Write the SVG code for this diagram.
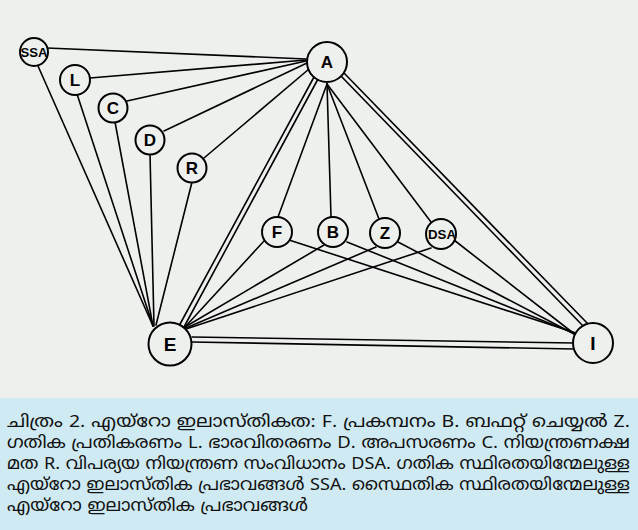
<svg xmlns="http://www.w3.org/2000/svg" width="638" height="530" viewBox="0 0 638 530">
<style>
.node circle{fill:#eef0ee;stroke:#000;stroke-width:2}
.node text{font-family:"Liberation Sans",Arial,sans-serif;font-weight:bold;fill:#000;text-anchor:middle}
.edges line{stroke:#000;stroke-width:1.6;stroke-linecap:round}
.cap{font-family:"Noto Sans Malayalam","Noto Sans","DejaVu Sans",sans-serif;font-size:17px;fill:#111}
</style>
<rect x="0" y="0" width="638" height="398" fill="#eef0ee"/>
<rect x="0" y="398" width="638" height="132" fill="#cfeaf3"/>
<g id="connectors" class="edges">
<line x1="47" y1="48" x2="306" y2="59"/>
<line x1="38" y1="66" x2="153" y2="326"/>
<line x1="90" y1="78" x2="306" y2="60"/>
<line x1="77" y1="94" x2="153" y2="326"/>
<line x1="127" y1="101" x2="306" y2="61"/>
<line x1="115" y1="122" x2="153" y2="326"/>
<line x1="164" y1="131" x2="307" y2="63"/>
<line x1="150" y1="154" x2="154" y2="326"/>
<line x1="204" y1="158" x2="309" y2="69"/>
<line x1="192" y1="182" x2="156" y2="325"/>
<line x1="314" y1="77" x2="179" y2="326"/>
<line x1="318" y1="79" x2="184" y2="327"/>
<line x1="341" y1="76" x2="585" y2="328"/>
<line x1="344" y1="73" x2="589" y2="325"/>
<line x1="327" y1="84" x2="278" y2="217"/>
<line x1="327" y1="84" x2="331" y2="217"/>
<line x1="327" y1="84" x2="379" y2="219"/>
<line x1="327" y1="84" x2="431" y2="222"/>
<line x1="264" y1="241" x2="185" y2="327"/>
<line x1="289" y1="240" x2="576" y2="333"/>
<line x1="324" y1="245" x2="185" y2="327"/>
<line x1="347" y1="242" x2="576" y2="334"/>
<line x1="376" y1="247" x2="186" y2="328"/>
<line x1="398" y1="242" x2="576" y2="335"/>
<line x1="431" y1="248" x2="186" y2="329"/>
<line x1="454" y1="240" x2="577" y2="336"/>
<line x1="192" y1="337" x2="574" y2="343"/>
<line x1="192" y1="342" x2="574" y2="349"/>
</g>
<g id="node-SSA" class="node"><circle cx="34" cy="52" r="14"/><text x="34" y="57" font-size="13" textLength="27" lengthAdjust="spacingAndGlyphs">SSA</text></g>
<g id="node-L" class="node"><circle cx="75" cy="80" r="15"/><text x="75" y="86" font-size="17">L</text></g>
<g id="node-C" class="node"><circle cx="113" cy="108" r="14.5"/><text x="113" y="114" font-size="17">C</text></g>
<g id="node-D" class="node"><circle cx="150" cy="140" r="14.5"/><text x="150" y="146" font-size="17">D</text></g>
<g id="node-R" class="node"><circle cx="192" cy="168" r="14.5"/><text x="192" y="174" font-size="17">R</text></g>
<g id="node-A" class="node"><circle cx="327" cy="62" r="20"/><text x="327" y="68" font-size="17">A</text></g>
<g id="node-F" class="node"><circle cx="277" cy="232" r="15"/><text x="277" y="238" font-size="17">F</text></g>
<g id="node-B" class="node"><circle cx="333" cy="232" r="15"/><text x="333" y="238" font-size="17">B</text></g>
<g id="node-Z" class="node"><circle cx="385" cy="233" r="15"/><text x="385" y="239" font-size="17">Z</text></g>
<g id="node-DSA" class="node"><circle cx="441" cy="234" r="15"/><text x="442" y="239" font-size="13" textLength="28" lengthAdjust="spacingAndGlyphs">DSA</text></g>
<g id="node-E" class="node"><circle cx="170" cy="344" r="21.5"/><text x="170" y="351" font-size="19">E</text></g>
<g id="node-I" class="node"><circle cx="593" cy="343" r="20"/><text x="593" y="350" font-size="19">I</text></g>
<g id="caption" class="cap">
<text x="7" y="427" textLength="623" lengthAdjust="spacingAndGlyphs">ചിത്രം 2. എയ്റോ ഇലാസ്തികത: F. പ്രകമ്പനം B. ബഫറ്റ് ചെയ്യൽ Z.</text>
<text x="7" y="448" textLength="623" lengthAdjust="spacingAndGlyphs">ഗതിക പ്രതികരണം L. ഭാരവിതരണം D. അപസരണം C. നിയന്ത്രണക്ഷ</text>
<text x="7" y="469" textLength="623" lengthAdjust="spacingAndGlyphs">മത R. വിപര്യയ നിയന്ത്രണ സംവിധാനം DSA. ഗതിക സ്ഥിരതയിന്മേലുള്ള</text>
<text x="7" y="490" textLength="623" lengthAdjust="spacingAndGlyphs">എയ്റോ ഇലാസ്തിക പ്രഭാവങ്ങൾ SSA. സ്ഥൈതിക സ്ഥിരതയിന്മേലുള്ള</text>
<text x="7" y="511" textLength="301" lengthAdjust="spacingAndGlyphs">എയ്റോ ഇലാസ്തിക പ്രഭാവങ്ങൾ</text>
</g>
</svg>
